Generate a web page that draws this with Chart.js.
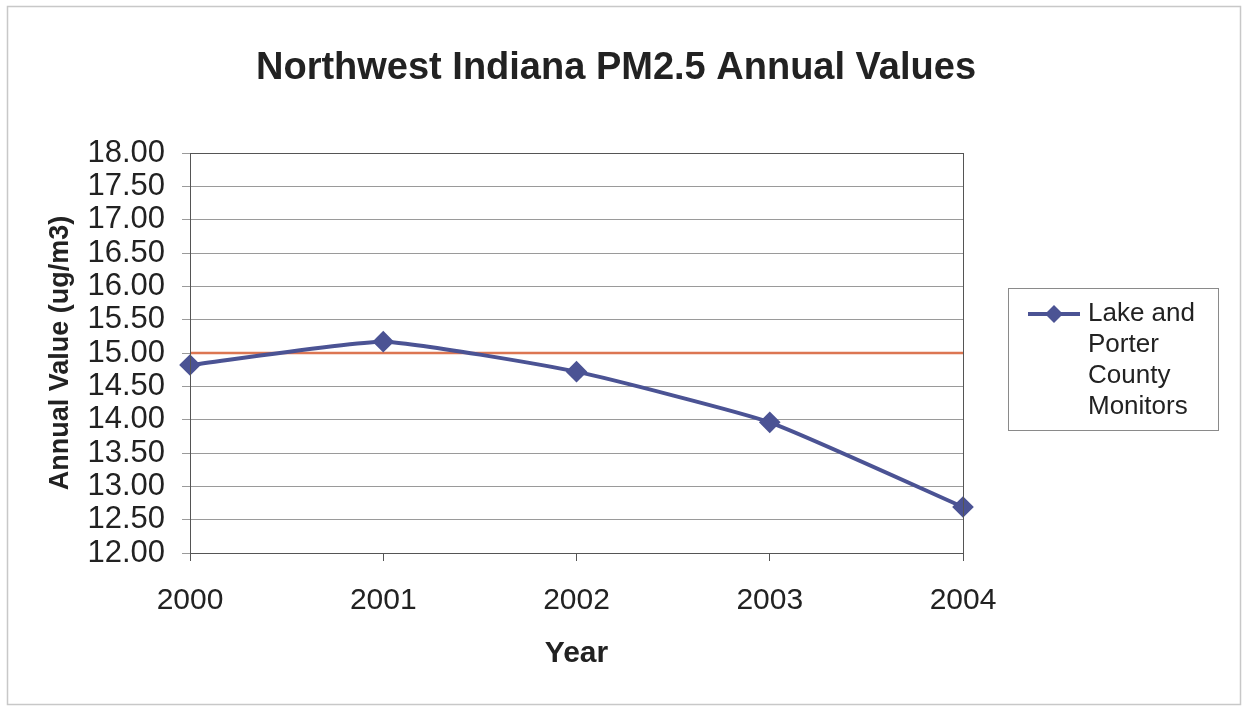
<!DOCTYPE html>
<html>
<head>
<meta charset="utf-8">
<script src="https://cdn.jsdelivr.net/npm/chart.js@4"></script>
<style>
  html, body { margin: 0; padding: 0; background: #fff; }
  #wrap { width: 1249px; height: 707px; position: relative; }
</style>
</head>
<body>
<div id="wrap"><canvas id="chartPm"></canvas></div>
<script>
const YEARS = ["2000", "2001", "2002", "2003", "2004"];
const LAKE_PORTER = [14.82, 15.17, 14.72, 13.96, 12.69]; // annual PM2.5, ug/m3
const STANDARD = [15.0, 15.0, 15.0, 15.0, 15.0];          // annual standard
const TITLE = "Northwest Indiana PM2.5 Annual Values";
const LEGEND_LINES = ["Lake and", "Porter", "County", "Monitors"];

const SERIES_COLOR = "#4b5394";
const STD_COLOR = "#dc7652";
const FONT = "'Liberation Sans', Arial, sans-serif";

// page frame, centred title and plot-area border (Excel style box)
const framePlugin = {
  id: "frame",
  beforeDraw(chart) {
    const ctx = chart.ctx;
    ctx.save();
    ctx.strokeStyle = "#c8c8c8";
    ctx.lineWidth = 1.5;
    ctx.strokeRect(7.5, 6.5, 1233, 698);
    ctx.fillStyle = "#222";
    ctx.font = "bold 38px " + FONT;
    ctx.textAlign = "center";
    ctx.textBaseline = "middle";
    ctx.fillText(TITLE, 616, 69);
    ctx.restore();
  },
  afterDraw(chart) {
    const { ctx, chartArea: a } = chart;
    ctx.save();
    ctx.strokeStyle = "#555";
    ctx.lineWidth = 1;
    ctx.strokeRect(a.left + 0.5, a.top + 0.5, a.right - a.left, a.bottom - a.top);
    ctx.restore();
  },
};

// boxed legend with a wrapped label, like the spreadsheet one
const sideLegend = {
  id: "sideLegend",
  afterDraw(chart) {
    const ctx = chart.ctx;
    const x = 1008, y = 288, w = 210, h = 142;
    ctx.save();
    ctx.fillStyle = "#fff";
    ctx.fillRect(x, y, w, h);
    ctx.strokeStyle = "#8a8a8a";
    ctx.lineWidth = 1;
    ctx.strokeRect(x + 0.5, y + 0.5, w, h);

    const my = y + 26;
    ctx.strokeStyle = SERIES_COLOR;
    ctx.lineWidth = 4;
    ctx.beginPath();
    ctx.moveTo(x + 20, my);
    ctx.lineTo(x + 72, my);
    ctx.stroke();
    ctx.fillStyle = SERIES_COLOR;
    ctx.beginPath();
    ctx.moveTo(x + 46, my - 9);
    ctx.lineTo(x + 55, my);
    ctx.lineTo(x + 46, my + 9);
    ctx.lineTo(x + 37, my);
    ctx.closePath();
    ctx.fill();

    ctx.fillStyle = "#222";
    ctx.font = "26px " + FONT;
    ctx.textBaseline = "middle";
    LEGEND_LINES.forEach((t, i) => ctx.fillText(t, x + 80, my + i * 31));
    ctx.restore();
  },
};

const ctx = document.getElementById("chartPm").getContext("2d");
new Chart(ctx, {
  type: "line",
  data: {
    labels: YEARS,
    datasets: [
      {
        label: "Lake and Porter County Monitors",
        data: LAKE_PORTER,
        borderColor: SERIES_COLOR,
        backgroundColor: SERIES_COLOR,
        borderWidth: 4,
        tension: 0.15,
        pointStyle: "rectRot",
        pointRadius: 8,
        pointHoverRadius: 8,
        order: 1,
      },
      {
        label: "Standard",
        data: STANDARD,
        borderColor: STD_COLOR,
        borderWidth: 2.5,
        pointRadius: 0,
        order: 2,
      },
    ],
  },
  options: {
    responsive: true,
    maintainAspectRatio: false,
    animation: false,
    layout: { padding: { left: 30, right: 286, top: 153, bottom: 0 } },
    plugins: {
      legend: { display: false },
      tooltip: { enabled: false },
      title: { display: false },
    },
    scales: {
      x: {
        offset: false,
        grid: { display: true, drawOnChartArea: false, tickLength: 8, color: "#555" },
        border: { color: "#555" },
        ticks: { color: "#222", padding: 22, autoSkip: false, maxRotation: 0, font: { family: FONT, size: 30 } },
        title: {
          display: true,
          text: "Year",
          color: "#222",
          font: { family: FONT, size: 30, weight: "bold", lineHeight: 1.2 },
          padding: { top: 0, bottom: 35 },
        },
        afterFit(scale) { scale.height = 154; },
      },
      y: {
        min: 12,
        max: 18,
        grid: { color: "#9a9a9a", lineWidth: 1, tickLength: 8 },
        border: { color: "#555" },
        ticks: {
          stepSize: 0.5,
          autoSkip: false,
          color: "#222",
          padding: 17,
          font: { family: FONT, size: 31 },
          callback: (v) => Number(v).toFixed(2),
        },
        title: {
          display: true,
          text: "Annual Value (ug/m3)",
          color: "#222",
          font: { family: FONT, size: 27, weight: "bold", lineHeight: 1.2 },
          padding: { top: 14, bottom: 0 },
        },
        afterFit(scale) { scale.width = 160; },
      },
    },
  },
  plugins: [framePlugin, sideLegend],
});
</script>
</body>
</html>
